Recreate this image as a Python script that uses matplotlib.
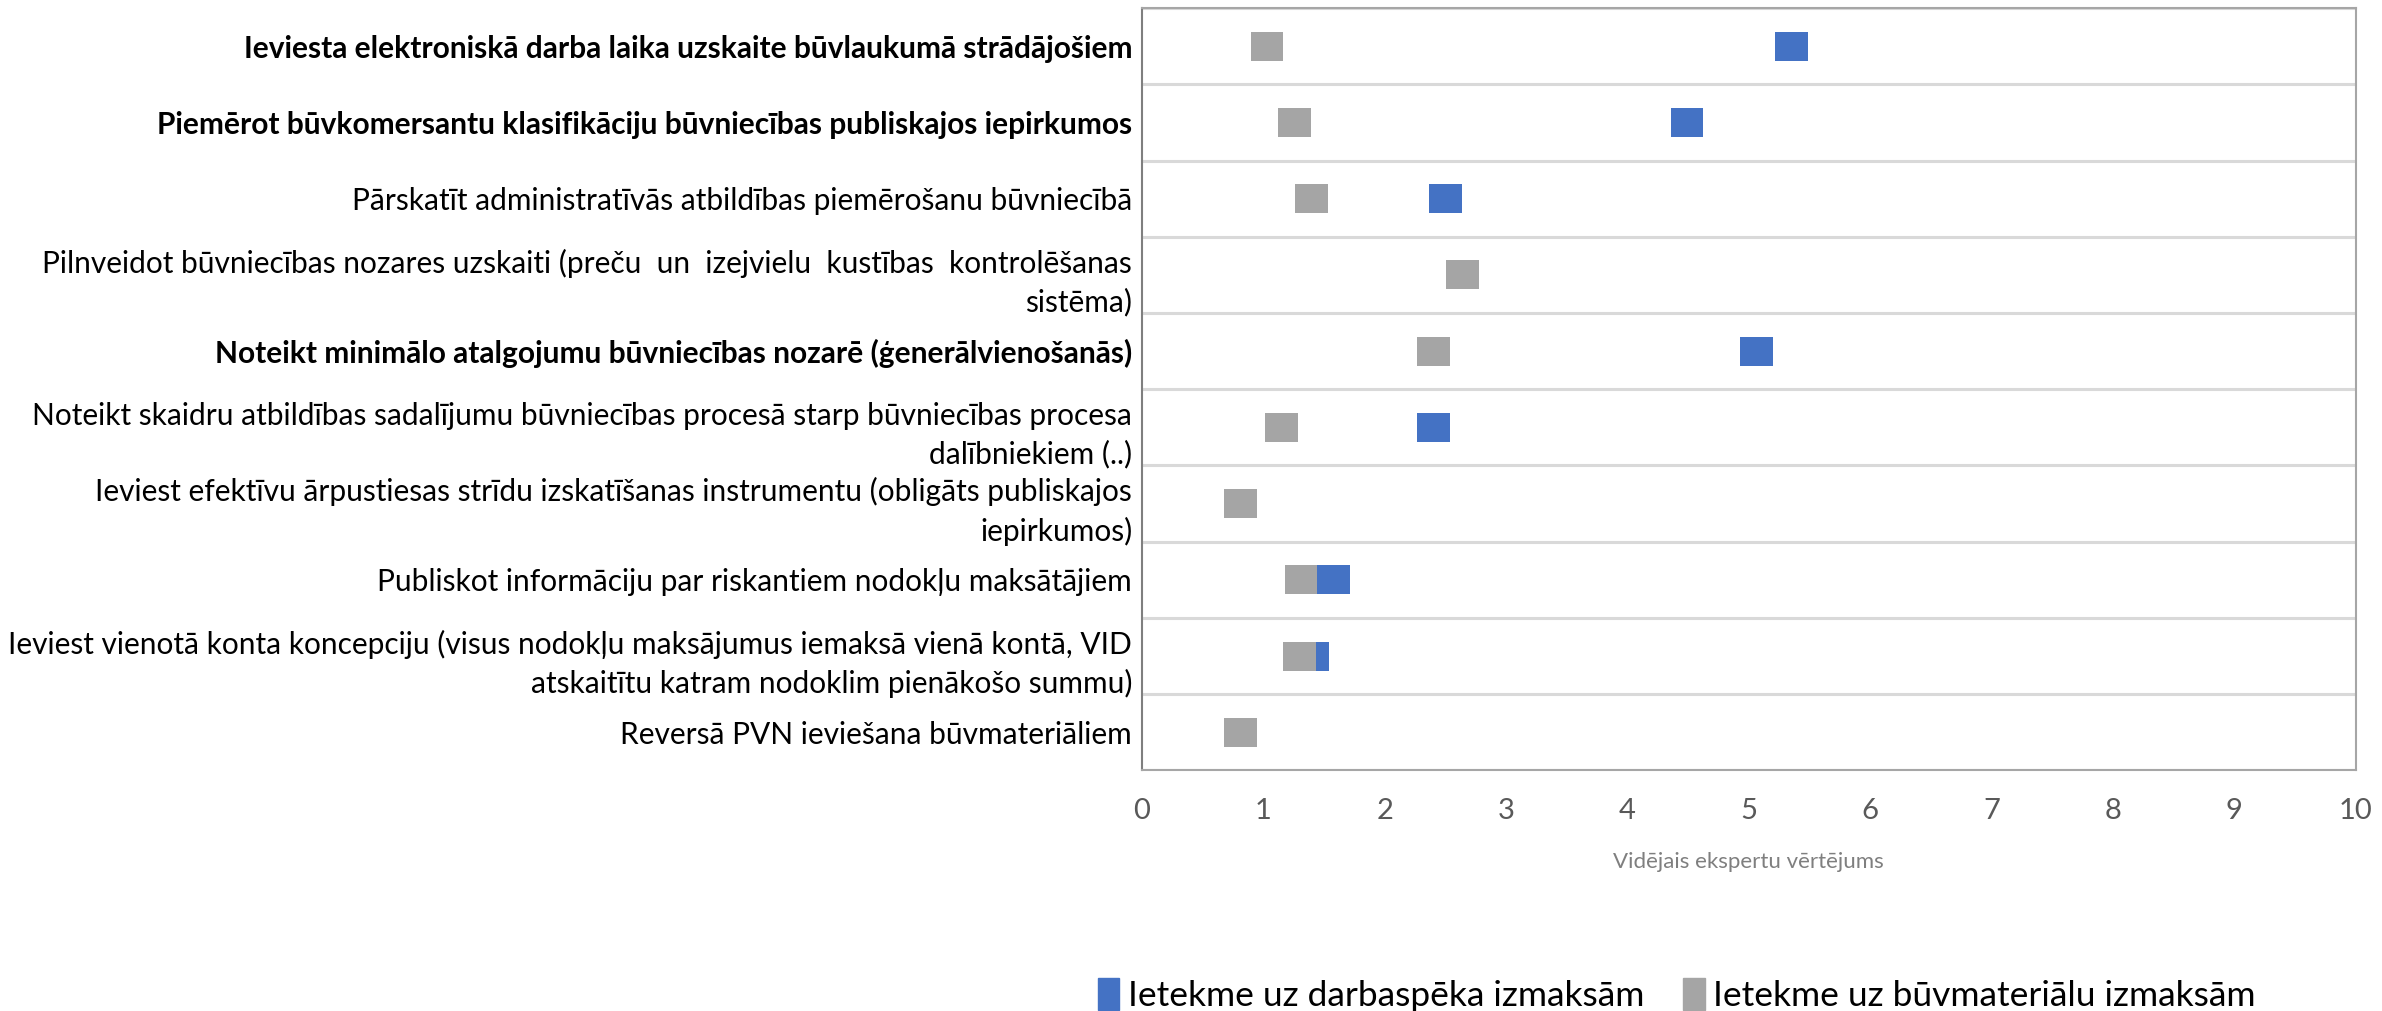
import numpy as np
import matplotlib
matplotlib.use("Agg")
import matplotlib.pyplot as plt
from matplotlib.patches import Patch

plt.rcParams['font.family'] = ['Lato', 'DejaVu Sans']

# kategorijas (no augšas uz leju)
labels = [
    "Ieviesta elektroniskā darba laika uzskaite būvlaukumā strādājošiem",
    "Piemērot būvkomersantu klasifikāciju būvniecības publiskajos iepirkumos",
    "Pārskatīt administratīvās atbildības piemērošanu būvniecībā",
    "Pilnveidot būvniecības nozares uzskaiti (preču  un  izejvielu  kustības  kontrolēšanas\nsistēma)",
    "Noteikt minimālo atalgojumu būvniecības nozarē (ģenerālvienošanās)",
    "Noteikt skaidru atbildības sadalījumu būvniecības procesā starp būvniecības procesa\ndalībniekiem (..)",
    "Ieviest efektīvu ārpustiesas strīdu izskatīšanas instrumentu (obligāts publiskajos\niepirkumos)",
    "Publiskot informāciju par riskantiem nodokļu maksātājiem",
    "Ieviest vienotā konta koncepciju (visus nodokļu maksājumus iemaksā vienā kontā, VID\natskaitītu katram nodoklim pienākošo summu)",
    "Reversā PVN ieviešana būvmateriāliem",
]
bold_rows = [0, 1, 4]

darbaspeks = [5.35, 4.49, 2.50, np.nan, 5.06, 2.40, np.nan, 1.58, 1.41, np.nan]
buvmateriali = [1.03, 1.26, 1.40, 2.64, 2.40, 1.15, 0.81, 1.31, 1.30, 0.81]

series_names = ["Ietekme uz darbaspēka izmaksām", "Ietekme uz būvmateriālu izmaksām"]
c_blue = "#4472C4"
c_gray = "#A5A5A5"

fig = plt.figure(figsize=(23.82, 10.11), dpi=100)
ax = fig.add_axes([0.4794, 0.238, 0.5096, 0.754])

y = np.arange(len(labels))
mw = 0.27   # marķiera platums
mh = 0.38
d = np.array(darbaspeks)
b = np.array(buvmateriali)
ax.barh(y, mw, left=d - mw / 2, height=mh, color=c_blue, zorder=3)
ax.barh(y, mw, left=b - mw / 2, height=mh, color=c_gray, zorder=4)

ax.set_xlim(0, 10)
ax.set_ylim(len(labels) - 0.5, -0.5)
ax.set_xticks(range(0, 11))
ax.set_yticks(y)
ax.set_yticklabels(labels, linespacing=1.44)
for i, t in enumerate(ax.get_yticklabels()):
    if i in bold_rows:
        t.set_fontweight('bold')
ax.set_yticks(np.arange(len(labels) + 1) - 0.5, minor=True)
ax.grid(which='minor', axis='y', color='#d9d9d9', lw=2.2)
ax.tick_params(axis='y', which='both', length=0, pad=7, labelsize=21.5, labelcolor='black')
ax.tick_params(axis='x', length=0, pad=20, labelsize=21, labelcolor='#595959')
ax.set_xlabel("Vidējais ekspertu vērtējums", fontsize=16, color='#7f7f7f', labelpad=20)

for s in ['top', 'right', 'bottom']:
    ax.spines[s].set_color('#a6a6a6')
    ax.spines[s].set_linewidth(1.5)
ax.spines['left'].set_color('#7f7f7f')
ax.spines['left'].set_linewidth(1.5)

handles = [Patch(color=c_blue), Patch(color=c_gray)]
fig.legend(handles, series_names, loc='center', bbox_to_anchor=(0.704, 0.016),
           ncol=2, frameon=False, fontsize=25.5, handlelength=0.6, handleheight=1.0,
           handletextpad=0.25, columnspacing=1.1, borderpad=0)

fig.savefig("out.png", dpi=100)
